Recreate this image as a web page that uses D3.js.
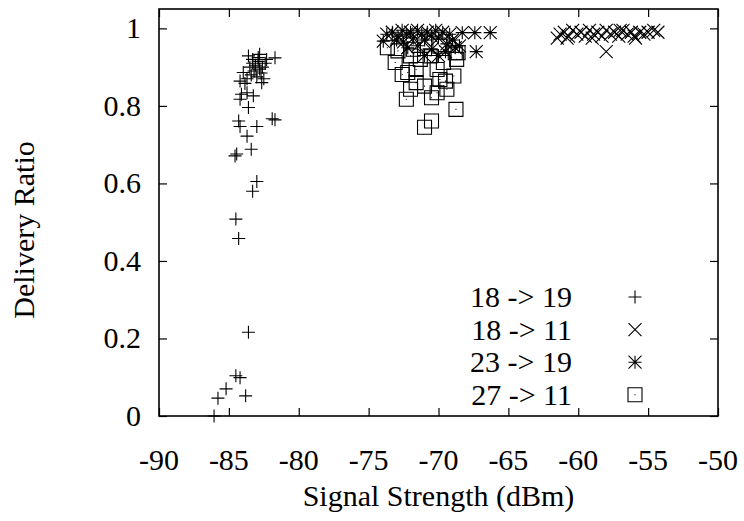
<!DOCTYPE html>
<html>
<head>
<meta charset="utf-8">
<script src="https://cdn.jsdelivr.net/npm/d3@7"></script>
</head>
<body style="margin:0">
<svg id="chart" width="744" height="521"></svg>
<script>
// series names, in legend order
var seriesNames = ["18 -> 19", "18 -> 11", "23 -> 19", "27 -> 11"];

// [signal strength dBm, delivery ratio]
var link18to19 = [
  [-86.06, 0.000], [-85.78, 0.046], [-85.20, 0.070], [-84.50, 0.104], [-84.20, 0.099],
  [-83.80, 0.052], [-83.60, 0.216], [-84.30, 0.458], [-84.50, 0.508], [-83.30, 0.580],
  [-83.00, 0.605], [-84.56, 0.671], [-84.44, 0.676], [-83.40, 0.688], [-83.70, 0.722],
  [-84.20, 0.747], [-84.30, 0.761], [-83.00, 0.747], [-81.90, 0.767], [-81.70, 0.764],
  [-83.60, 0.796], [-84.10, 0.830], [-83.70, 0.834], [-83.25, 0.826], [-84.20, 0.817],
  [-83.85, 0.858], [-84.20, 0.864], [-82.65, 0.860], [-83.97, 0.886], [-83.60, 0.929],
  [-82.80, 0.933], [-81.70, 0.924], [-83.30, 0.910], [-83.10, 0.905], [-82.90, 0.915],
  [-83.50, 0.900], [-83.20, 0.890], [-82.60, 0.900], [-82.40, 0.910], [-83.40, 0.880],
  [-83.00, 0.875], [-82.70, 0.885], [-82.50, 0.870], [-83.70, 0.870], [-82.90, 0.925],
  [-82.30, 0.920], [-83.30, 0.920], [-82.80, 0.895]
];

var link18to11 = [
  [-61.30, 0.985], [-61.00, 0.990], [-60.70, 0.980], [-60.40, 0.995], [-60.10, 0.985],
  [-59.80, 0.990], [-59.50, 0.980], [-59.20, 0.995], [-58.90, 0.985], [-58.60, 0.990],
  [-58.30, 0.980], [-58.00, 0.995], [-57.70, 0.985], [-57.40, 0.990], [-57.10, 0.980],
  [-56.80, 0.995], [-56.50, 0.985], [-56.20, 0.990], [-55.90, 0.975], [-55.60, 0.990],
  [-55.30, 0.985], [-55.00, 0.990], [-54.60, 0.995], [-54.30, 0.990], [-58.00, 0.940],
  [-60.80, 0.975], [-59.00, 0.975], [-57.00, 0.995], [-56.00, 0.980], [-61.50, 0.975]
];

var link23to19 = [
  [-73.70, 0.985], [-73.95, 0.967], [-73.30, 0.990], [-72.90, 0.980], [-72.60, 0.995],
  [-72.30, 0.985], [-72.00, 0.990], [-71.80, 0.975], [-71.50, 0.995], [-71.20, 0.985],
  [-71.00, 0.970], [-70.80, 0.990], [-70.50, 0.980], [-70.20, 0.995], [-70.00, 0.975],
  [-69.70, 0.990], [-69.40, 0.960], [-69.20, 0.985], [-69.00, 0.970], [-68.80, 0.950],
  [-68.30, 0.989], [-68.50, 0.955], [-67.40, 0.989], [-66.30, 0.989], [-67.30, 0.940],
  [-72.50, 0.965], [-71.50, 0.955], [-70.50, 0.945], [-70.00, 0.930], [-69.50, 0.940],
  [-71.00, 0.930], [-72.20, 0.950], [-73.00, 0.970]
];

var link27to11 = [
  [-73.66, 0.950], [-72.90, 0.942], [-73.10, 0.912], [-72.00, 0.929], [-72.60, 0.881],
  [-72.20, 0.886], [-72.00, 0.843], [-72.30, 0.817], [-71.00, 0.851], [-70.50, 0.821],
  [-71.00, 0.745], [-70.50, 0.761], [-68.75, 0.791], [-69.90, 0.868], [-69.50, 0.864],
  [-68.80, 0.937], [-68.60, 0.937], [-68.70, 0.920], [-68.90, 0.877], [-70.10, 0.894],
  [-71.60, 0.894], [-71.30, 0.920], [-70.60, 0.929], [-69.65, 0.912], [-69.40, 0.843],
  [-70.10, 0.834], [-71.60, 0.860], [-71.80, 0.946], [-69.90, 0.954]
];

var xTicks = [-90, -85, -80, -75, -70, -65, -60, -55, -50];
var yTicks = [0, 0.2, 0.4, 0.6, 0.8, 1];

var width = 744, height = 521;
var margin = { top: 9, right: 26, bottom: 105, left: 159 };

var svg = d3.select("#chart");

var x = d3.scaleLinear()
    .domain([-90, -50])
    .range([margin.left, width - margin.right]);

var y = d3.scaleLinear()
    .domain([0, 1.05])
    .range([height - margin.bottom, margin.top]);

var tick = 8;

function label(px, py, str, anchor, rotate) {
  var t = svg.append("text")
      .attr("x", px)
      .attr("y", py)
      .style("font-family", "'Tinos'")
      .style("font-size", "30px")
      .style("text-anchor", anchor)
      .text(str);
  if (rotate) t.attr("transform", "rotate(-90," + px + "," + py + ")");
  return t;
}

// ticks mirrored inward on all sides like gnuplot
function styleAxis(g) {
  g.select(".domain").remove();
  g.selectAll(".tick text").remove();
  g.selectAll(".tick line").attr("stroke", "#000").attr("stroke-width", 1.2);
}

svg.append("g")
    .attr("transform", "translate(0," + y(0) + ")")
    .call(d3.axisBottom(x).tickValues(xTicks).tickSize(-tick))
    .call(styleAxis);

svg.append("g")
    .attr("transform", "translate(0," + margin.top + ")")
    .call(d3.axisTop(x).tickValues(xTicks).tickSize(-tick))
    .call(styleAxis);

svg.append("g")
    .attr("transform", "translate(" + margin.left + ",0)")
    .call(d3.axisLeft(y).tickValues(yTicks).tickSize(-tick))
    .call(styleAxis);

svg.append("g")
    .attr("transform", "translate(" + (width - margin.right) + ",0)")
    .call(d3.axisRight(y).tickValues(yTicks).tickSize(-tick))
    .call(styleAxis);

// tick labels
xTicks.forEach(d => label(x(d), y(0) + 54, String(d), "middle"));
yTicks.forEach(d => label(margin.left - 18, y(d) + 10, String(d), "end"));

svg.append("rect")
    .attr("x", margin.left)
    .attr("y", margin.top)
    .attr("width", width - margin.left - margin.right)
    .attr("height", y(0) - margin.top)
    .attr("fill", "none")
    .attr("stroke", "#000")
    .attr("stroke-width", 1.6);

// axis titles
label((margin.left + width - margin.right) / 2, 506, "Signal Strength (dBm)", "middle");
label(34, 230, "Delivery Ratio", "middle", true);

// point symbols
var s = 6.5;
var symbols = [
  "M" + -s + ",0H" + s + "M0," + -s + "V" + s,
  "M" + -s + "," + -s + "L" + s + "," + s + "M" + -s + "," + s + "L" + s + "," + -s,
  "M" + -s + ",0H" + s + "M0," + -s + "V" + s + "M" + -s + "," + -s + "L" + s + "," + s + "M" + -s + "," + s + "L" + s + "," + -s,
  "M-7,-7H7V7H-7Z M-0.5,0H0.5"
];

var allSeries = [link18to19, link18to11, link23to19, link27to11];

allSeries.forEach(function(series, i) {
  svg.append("g")
    .selectAll("path")
    .data(series)
    .enter()
    .append("path")
      .attr("transform", d => "translate(" + x(d[0]) + "," + y(d[1]) + ")")
      .attr("d", symbols[i])
      .attr("fill", "none")
      .attr("stroke", "#000")
      .attr("stroke-width", 1.1);
});

// legend
seriesNames.forEach(function(name, i) {
  var ly = 297 + i * 32.6;
  label(572, ly + 10, name, "end");
  svg.append("path")
      .attr("transform", "translate(635," + ly + ")")
      .attr("d", symbols[i])
      .attr("fill", "none")
      .attr("stroke", "#000")
      .attr("stroke-width", 1.1);
});
</script>
</body>
</html>
